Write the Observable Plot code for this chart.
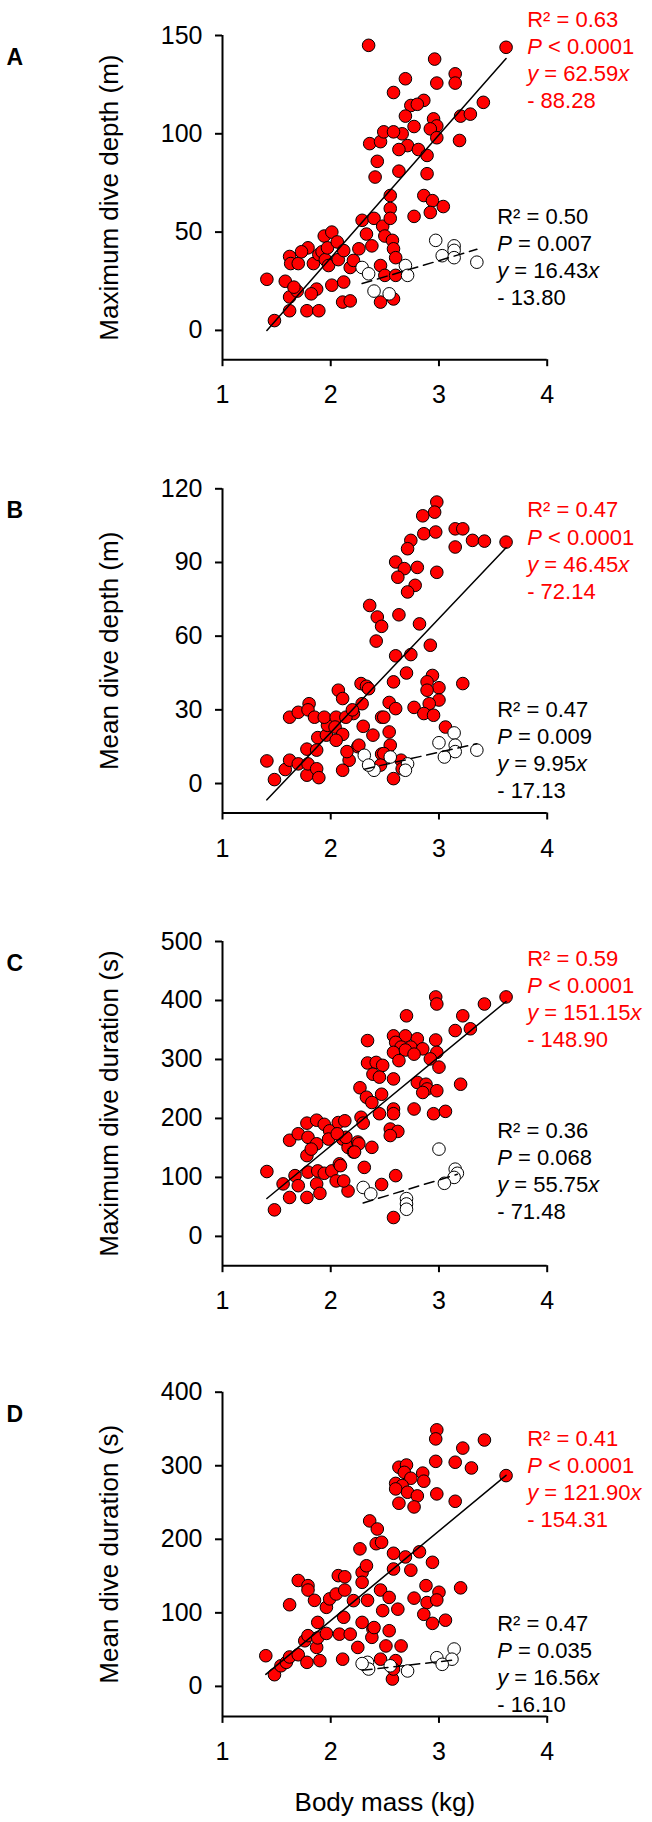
<!DOCTYPE html>
<html>
<head>
<meta charset="utf-8">
<script src="https://cdn.jsdelivr.net/npm/d3@7"></script>
<script src="https://cdn.jsdelivr.net/npm/@observablehq/plot@0.6"></script>
<style>
  html, body { margin: 0; padding: 0; background: #fff; }
  #chart svg { display: block; }
</style>
</head>
<body>
<div id="chart"></div>
<script>
// ---------- data: [body mass (kg), value] ----------
const redA = [
  [1.41,26],[1.48,5],[1.62,10],[1.58,25],[1.62,37.6],[1.63,34],[1.70,34],[1.62,17],[1.69,20],[1.66,22],
  [1.78,10],[1.87,21],[1.89,10],[1.82,18.6],[1.79,42],[1.84,34],[1.89,38.6],[1.73,40],[1.92,40],[1.95,36],
  [1.94,48],[2.01,50],[1.97,42],[1.98,33],[2.06,45],[2.07,36],[2.12,40.6],[2.01,23],[2.12,24.6],[2.11,14.4],
  [2.18,15],[2.18,32],[2.21,35.6],[2.26,41.5],[2.29,56],[2.33,49],[2.38,43],[2.40,57],[2.35,145],[2.36,95],
  [2.46,96],[2.49,101],[2.43,86],[2.41,78],[2.48,53],[2.46,14.4],[2.46,33],[2.50,48],[2.50,28],
  [3.62,144],[2.96,138],[2.69,128],[3.15,130.5],[2.98,125.8],[3.15,125.8],[2.58,121],[3.41,116],[2.74,114.4],[2.86,117],
  [2.80,115],[2.69,109],[2.95,107.6],[2.98,104],[3.20,109],[3.29,110],[2.77,103.7],[2.66,100],[2.58,101],[2.92,102.5],
  [2.71,94],[2.81,92],[2.63,92],[2.89,89],[2.98,98],[3.19,96.6],[2.63,81],[2.89,79.7],[2.55,68.6],[2.86,68.6],
  [2.94,66],[3.04,63],[2.92,60],[2.55,62],[2.77,58],[2.55,57],[2.57,45.8],[2.58,41.5],[2.60,37],[2.60,28],
  [2.58,16]
];
const whiteA = [
  [2.97,45.8],[3.14,43],[3.14,40.7],[3.03,38],[3.14,37],[3.35,34.7],[2.69,33],[2.71,28],[2.29,32],[2.35,28.8],
  [2.40,20],[2.54,18.6]
];
const redB = [
  [1.41,9.2],[1.48,1.6],[1.58,5.7],[1.62,9.5],[1.62,27],[1.70,29],[1.80,32.5],[1.79,30],[1.85,27],[1.70,8],
  [1.78,3.4],[1.79,8],[1.78,14],[1.87,6],[1.89,2.4],[1.88,18.7],[1.87,13.6],[1.96,19.7],[1.97,23.7],[1.94,27],
  [2.05,27],[2.07,38],[2.11,34.6],[2.04,23],[2.11,20],[2.05,17.6],[2.17,9.5],[2.11,5.4],[2.21,28.5],[2.25,15],
  [2.28,40.7],[2.33,39.6],[2.29,32.5],[2.30,23.3],[2.39,19.7],[2.36,72.5],[2.43,67.8],[2.47,64],[2.42,58],[2.47,27],
  [2.47,12],[2.14,27],[2.20,30],[2.15,13],
  [2.98,114.6],[2.96,110.5],[2.85,109],[3.15,103.7],[3.22,103.7],[3.31,99],[3.42,98.7],[3.62,98.3],[3.15,96.3],[2.86,101.7],
  [2.97,102.4],[2.74,99],[2.71,95.6],[2.60,90.2],[2.68,87.5],[2.80,88],[2.98,86],[2.62,84],[2.78,80.7],[2.71,78],
  [2.63,68.7],[2.82,65],[2.60,52],[2.74,52.5],[2.92,56.3],[2.35,38.6],[2.58,41.4],[2.70,45],[2.94,44],[2.89,41.4],
  [3.22,40.7],[3.00,39],[2.89,38],[3.00,34],[2.91,32.5],[2.77,31],[2.86,28.5],[2.95,27.8],[2.54,33],[2.60,30.5],
  [2.49,27],[2.54,21],[2.55,15.6],[2.26,15.6],[3.06,23],[2.49,12.2],[2.46,7.5],[2.58,2],[2.65,9.5],[2.66,6]
];
const whiteB = [
  [3.14,20.6],[3.00,16.6],[3.15,15.6],[3.15,13],[3.05,10.8],[3.35,13.6],[2.31,11.5],[2.71,8],[2.40,5.4],[2.55,10.8],
  [2.69,5.4],[2.35,7.5]
];
const redC = [
  [1.41,110],[1.48,45],[1.62,163],[1.70,174],[1.78,192],[1.87,197],[1.94,190],[1.99,179],[2.07,193],[2.13,196],
  [1.79,168],[1.87,157],[1.98,165],[1.78,137],[1.82,148],[2.11,165],[2.16,151],[2.21,143],[2.25,160],[2.38,151],
  [2.28,202],[2.30,192],[2.27,252],[2.34,332],[2.34,294],[2.42,295],[2.48,290],[2.39,275],[2.45,270],[2.33,236],
  [2.38,227],[2.47,241],[2.45,208],[1.56,89],[1.62,66],[1.67,103],[1.70,86],[1.78,66],[1.79,109],[1.88,111],
  [1.87,89],[1.90,73],[1.94,107],[2.01,111],[2.08,123],[2.05,94],[2.16,77],[2.31,117],[2.47,88],
  [3.62,406],[3.42,394],[2.97,406],[2.98,394],[2.70,374],[3.22,374],[3.15,349],[3.29,352],[2.58,340],[2.69,340],
  [2.60,329],[2.80,335],[2.97,333],[2.65,321],[2.74,321],[2.85,318],[2.58,312],[2.98,312],[2.69,316],[2.77,309],
  [2.63,298],[2.92,301],[3.00,287],[2.58,267],[2.80,261],[2.88,258],[2.89,250],[2.85,244],[2.98,247],[3.20,258],
  [2.77,216],[2.58,216],[2.58,208],[2.95,208],[3.06,212],[2.55,182],[2.62,178],[2.55,171],[2.14,168],[2.06,174],
  [2.26,157],[2.22,143],[2.09,120],[2.12,94],[2.60,103],[2.58,32]
];
const whiteC = [
  [3.00,148],[3.15,114],[3.17,107],[3.14,100],[3.05,90],[2.30,83],[2.37,72],[2.70,64],[2.70,55],[2.70,46]
];
const redD = [
  [1.40,41.7],[1.48,15.9],[1.54,28],[1.59,32.7],[1.62,40],[1.70,43],[1.62,111],[1.70,144],[1.79,137],[1.79,131],
  [1.85,117],[1.76,62],[1.79,69],[1.78,32.7],[1.87,53],[1.88,66],[1.90,35],[1.88,87],[1.96,72],[1.96,107.5],
  [1.99,119],[2.05,125.6],[2.07,150.6],[2.13,149],[2.13,131],[2.12,94],[2.08,71],[2.18,71],[2.11,37],[2.21,116.6],
  [2.25,53],[2.27,187],[2.29,155],[2.33,164],[2.29,141.5],[2.36,225],[2.43,214],[2.42,194],[2.47,196],[2.34,117],
  [2.29,87],[2.39,78],[2.38,66.7],[2.46,131],[2.48,103],[2.46,37],
  [2.98,348.8],[2.97,336.5],[3.42,335],[3.22,324],[2.97,306],[3.15,304.8],[3.30,297],[3.62,286.6],[2.63,298],[2.70,301],
  [2.68,291],[2.85,290],[2.74,283],[2.60,276],[2.86,279],[2.66,273],[2.60,268.5],[2.71,264],[2.80,259],[2.98,261.7],
  [2.63,249],[2.77,244],[3.15,251.7],[2.58,181],[2.69,176],[2.82,183],[2.94,168.7],[2.58,159.6],[2.74,158],[2.54,121],
  [2.88,137],[3.00,128],[3.20,134],[2.77,120],[2.89,114],[2.98,117.5],[2.62,105],[2.86,98],[2.94,85.7],[3.06,90],
  [2.40,80],[2.54,75.7],[2.51,55],[2.65,55],[2.60,35],[2.57,10],[2.58,23.6]
];
const whiteD = [
  [3.14,50.8],[2.98,39],[3.12,37],[3.03,30],[2.34,32.7],[2.35,23.6],[2.55,28],[2.71,21],[2.29,31]
];

// regression fits [slope, intercept]
const redFits = [[62.59, -88.28], [46.45, -72.14], [151.15, -148.90], [121.90, -154.31]];
const whiteFits = [[16.43, -13.80], [9.95, -17.13], [55.75, -71.48], [16.56, -16.10]];

// labels
const panelLetters = ["A", "B", "C", "D"];
const yLabels = ["Maximum dive depth (m)", "Mean dive depth (m)", "Maximum dive duration (s)", "Mean dive duration (s)"];
const yDomains = [[-14.9, 150], [-12, 120], [-49.7, 500], [-40.8, 400]];
const yTickValues = [[0, 50, 100, 150], [0, 30, 60, 90, 120], [0, 100, 200, 300, 400, 500], [0, 100, 200, 300, 400]];
const xTickValues = [1, 2, 3, 4];
const xLabel = "Body mass (kg)";
const redStats = [
  "R² = 0.63\n{P} < 0.0001\n{y} = 62.59{x}\n- 88.28",
  "R² = 0.47\n{P} < 0.0001\n{y} = 46.45{x}\n- 72.14",
  "R² = 0.59\n{P} < 0.0001\n{y} = 151.15{x}\n- 148.90",
  "R² = 0.41\n{P} < 0.0001\n{y} = 121.90{x}\n- 154.31"
];
const blackStats = [
  "R² = 0.50\n{P} = 0.007\n{y} = 16.43{x}\n- 13.80",
  "R² = 0.47\n{P} = 0.009\n{y} = 9.95{x}\n- 17.13",
  "R² = 0.36\n{P} = 0.068\n{y} = 55.75{x}\n- 71.48",
  "R² = 0.47\n{P} = 0.035\n{y} = 16.56{x}\n- 16.10"
];
// anchor of the first text line (data units)
const redStatPos = [[3.815, 156], [3.815, 109.8], [3.815, 465], [3.815, 332]];
const blackStatPos = [[3.538, 55.9], [3.538, 28.5], [3.538, 173.7], [3.538, 80.3]];

const reds = [redA, redB, redC, redD];
const whites = [whiteA, whiteB, whiteC, whiteD];

// layout per panel
const panelHeights = [453, 453, 451, 465];
const panelTops = [35, 35.3, 35, 34.7];
const innerH = 324.2;

const FONT = "'Liberation Sans', Arial, Helvetica, sans-serif";
const RED = "#ff0000";

function fitLine(points, fit) {
  const [x0, x1] = d3.extent(points, d => d[0]);
  return [x0, x1].map(x => ({x, y: fit[0] * x + fit[1]}));
}

function italicize(svg) {
  const walker = document.createTreeWalker(svg, NodeFilter.SHOW_TEXT);
  const nodes = [];
  while (walker.nextNode()) if (walker.currentNode.nodeValue.includes("{")) nodes.push(walker.currentNode);
  for (const node of nodes) {
    const parts = node.nodeValue.split(/(\{[^}]*\})/);
    const frag = document.createDocumentFragment();
    for (const p of parts) {
      if (!p) continue;
      if (p[0] === "{") {
        const t = document.createElementNS("http://www.w3.org/2000/svg", "tspan");
        t.setAttribute("font-style", "italic");
        t.textContent = p.slice(1, -1);
        frag.appendChild(t);
      } else frag.appendChild(document.createTextNode(p));
    }
    node.parentNode.replaceChild(frag, node);
  }
}

const container = document.getElementById("chart");

for (let i = 0; i < 4; i++) {
  const H = panelHeights[i], mt = panelTops[i];
  const mb = H - mt - innerH;
  const last = i === 3;
  const marks = [
    Plot.dot(reds[i], {x: d => d[0], y: d => d[1], r: 6.3, fill: RED, stroke: "black", strokeWidth: 1, fillOpacity: 1}),
    Plot.dot(whites[i], {x: d => d[0], y: d => d[1], r: 6.3, fill: "white", stroke: "black", strokeWidth: 1}),
    Plot.line(fitLine(reds[i], redFits[i]), {x: "x", y: "y", stroke: "black", strokeWidth: 1.5}),
    Plot.line(fitLine(whites[i], whiteFits[i]), {x: "x", y: "y", stroke: "black", strokeWidth: 1.5, strokeDasharray: "10,6"}),
    Plot.ruleX([1], {stroke: "black", strokeWidth: 2}),
    Plot.ruleY([yDomains[i][0]], {stroke: "black", strokeWidth: 2}),
    Plot.axisY({ticks: yTickValues[i], tickSize: 7, tickPadding: 13, fontSize: 25, label: null, strokeWidth: 2, tickFormat: d => String(d), fill: "black"}),
    Plot.axisX({ticks: xTickValues, tickSize: 7, tickPadding: 19, fontSize: 25, label: null, strokeWidth: 2, tickFormat: d => String(d), fill: "black"}),
    Plot.text([yLabels[i]], {text: d => d, frameAnchor: "left", rotate: -90, dx: -105, textAnchor: "middle", lineAnchor: "bottom", fontSize: 26, fill: "black"}),
    Plot.text([panelLetters[i]], {text: d => d, frameAnchor: "top-left", dx: -216, dy: 29.5, textAnchor: "start", lineAnchor: "bottom", fontSize: 23, fontWeight: "bold", fill: "black"}),
    Plot.text([redStats[i]], {text: d => d, x: redStatPos[i][0], y: redStatPos[i][1], textAnchor: "start", lineAnchor: "top", dy: -15.6, fontSize: 22, lineHeight: 1.23, fill: RED}),
    Plot.text([blackStats[i]], {text: d => d, x: blackStatPos[i][0], y: blackStatPos[i][1], textAnchor: "start", lineAnchor: "top", dy: -15.6, fontSize: 22, lineHeight: 1.23, fill: "black"})
  ];
  if (last) {
    marks.push(Plot.text([xLabel], {text: d => d, frameAnchor: "bottom", dy: 94.6, textAnchor: "middle", lineAnchor: "bottom", fontSize: 26, fill: "black"}));
  }
  const svg = Plot.plot({
    width: 652,
    height: H,
    marginLeft: 222,
    marginRight: 105.3,
    marginTop: mt,
    marginBottom: mb,
    x: {domain: [1, 4]},
    y: {domain: yDomains[i]},
    style: {fontFamily: FONT, background: "white", color: "black", overflow: "visible"},
    marks
  });
  italicize(svg);
  container.appendChild(svg);
}
</script>
</body>
</html>
